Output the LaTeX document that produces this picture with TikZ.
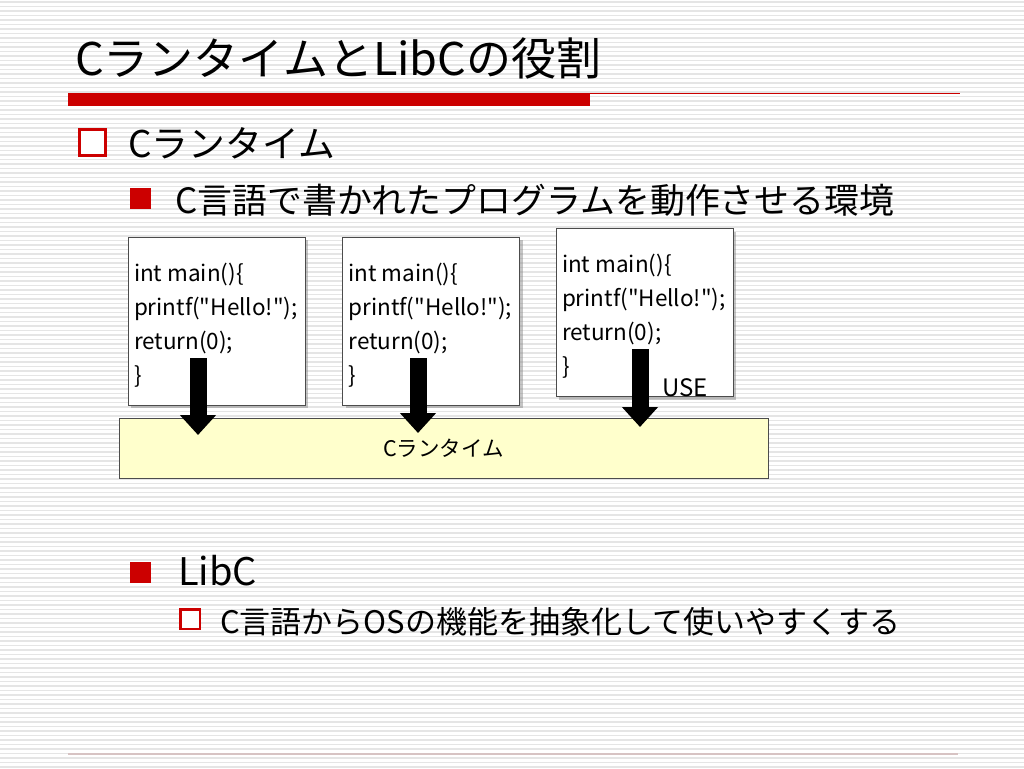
\documentclass[tikz,border=0pt]{standalone}
\usepackage{fontspec}
\setmainfont{Noto Sans CJK JP}
\newfontfamily\codefont{Noto Sans CJK JP}[Ligatures=TeXOff]
\usetikzlibrary{arrows.meta,positioning,shadows}
\definecolor{slidered}{HTML}{CC0000}
\definecolor{runtimeyellow}{HTML}{FFFFCC}
\definecolor{footline}{RGB}{215,195,195}
\begin{document}
\begin{tikzpicture}[x=1pt, y=-1pt, stripe/.style={black!10,line width=1.4pt},
code box/.style={rectangle,draw=black!70,fill=white,minimum width=177pt,minimum height=168pt,inner sep=0pt,drop shadow={shadow xshift=3pt,shadow yshift=-3pt,opacity=0.45}},
code text/.style={anchor=north west,inner sep=0pt,align=left,font=\codefont\fontsize{22.5}{34}\selectfont},
big arrow/.style={draw=black,line width=17pt,-{Triangle[length=20pt 0,width=35pt 0]}},
hollow bullet/.style={rectangle,draw=slidered,fill=white,inner sep=0pt},
solid bullet/.style={rectangle,fill=slidered,inner sep=0pt},
slide text/.style={anchor=base west,inner sep=0pt}]
\useasboundingbox (0,0) rectangle (1024,768);
\fill[white] (0,0) rectangle (1024,768);
\foreach \y in {2,6.5,...,768} \draw[stripe] (0,\y) -- (1024,\y);
% title and rules
\node[slide text,font=\fontsize{45}{50}\selectfont] (title) at (75,75) {CランタイムとLibCの役割};
\fill[slidered] (68,93) rectangle (590,106);
\draw[slidered,line width=1.2pt] (590,93.5) -- (960,93.5);
\draw[footline,line width=2pt] (68,754) -- (958,754);
% bullets
\node[hollow bullet,line width=3pt,minimum size=26pt] (b1) at (92.5,142.5) {};
\node[slide text,font=\fontsize{36.8}{40}\selectfont] (b1 text) at (128,157) {Cランタイム};
\node[solid bullet,minimum size=21pt] (b2) at (140.5,198.5) {};
\node[slide text,font=\fontsize{34.9}{38}\selectfont] (b2 text) at (175,213) {C言語で書かれたプログラムを動作させる環境};
\node[solid bullet,minimum size=21pt] (b3) at (140,572) {};
\node[slide text,font=\fontsize{38}{42}\selectfont] (b3 text) at (178,585) {LibC};
\node[hollow bullet,line width=2.5pt,minimum size=19.5pt] (b4) at (190,619) {};
\node[slide text,font=\fontsize{31}{35}\selectfont] (b4 text) at (220,633) {C言語からOSの機能を抽象化して使いやすくする};
% runtime and programs
\node[rectangle,draw=black!70,fill=runtimeyellow,minimum width=649pt,minimum height=60pt,inner sep=0pt,font=\fontsize{21.5}{24}\selectfont] (runtime) at (443.5,448) {Cランタイム};
\node[code box] (code1) at (216.5,321) {};
\node[code box] (code2) at (431,321) {};
\node[code box] (code3) at (644.5,312.5) {};
\foreach \n in {1,2,3}
  \node[code text] (code\n text) at ([xshift=6pt,yshift=-26pt]code\n.north west) {int main()\{\\printf("Hello!");\\return(0);\\\}};
\node[inner sep=0pt,font=\fontsize{24}{26}\selectfont] (use) at (685,388) {USE};
\coordinate (a1) at (198,358);
\coordinate (a1 tip) at (198,435);
\coordinate (a2) at (418,358);
\coordinate (a2 tip) at (418,433);
\coordinate (a3) at (640,349);
\coordinate (a3 tip) at (640,427);
\foreach \n in {1,2,3} \draw[big arrow] (a\n) -- (a\n\space tip);
\end{tikzpicture}
\end{document}
